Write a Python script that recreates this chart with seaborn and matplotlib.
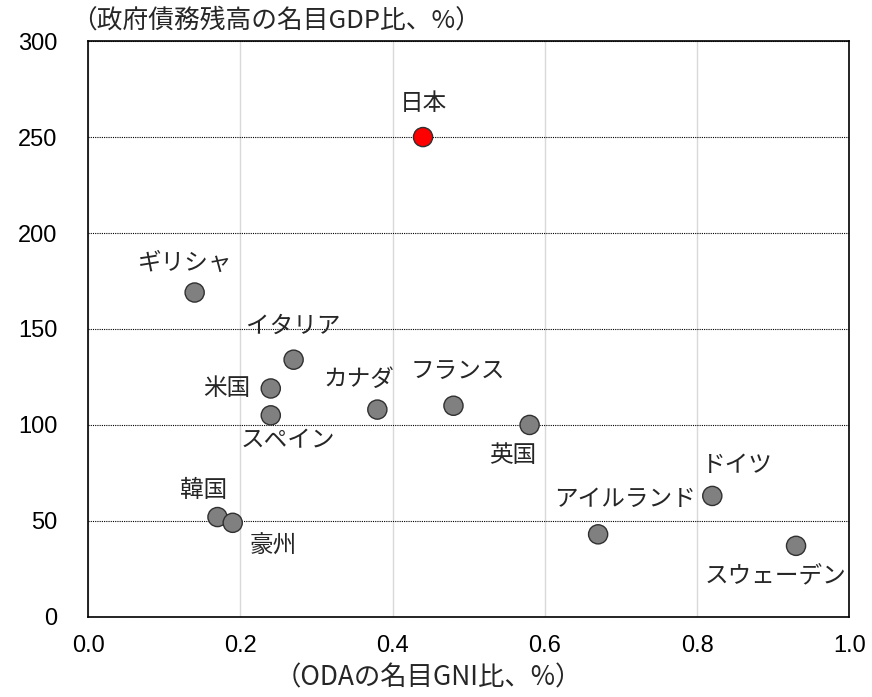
import matplotlib
matplotlib.use('Agg')
import matplotlib.pyplot as plt
import pandas as pd
import seaborn as sns

# Data
countries = ['日本', 'ギリシャ', 'イタリア', '米国', 'スペイン', 'カナダ', 'フランス',
             '英国', '韓国', '豪州', 'アイルランド', 'ドイツ', 'スウェーデン']
oda_gni = [0.44, 0.14, 0.27, 0.24, 0.24, 0.38, 0.48, 0.58, 0.17, 0.19, 0.67, 0.82, 0.93]
debt_gdp = [250, 169, 134, 119, 105, 108, 110, 100, 52, 49, 43, 63, 37]

df = pd.DataFrame({'country': countries, 'oda': oda_gni, 'debt': debt_gdp})
df['group'] = ['japan' if c == '日本' else 'other' for c in df['country']]

# Label offsets (points) relative to each marker
label_offsets = {
    '日本': (0, 24), 'ギリシャ': (-7, 21), 'イタリア': (0, 24), '米国': (-32, 0),
    'スペイン': (12, -18), 'カナダ': (-13, 22), 'フランス': (3, 25), '英国': (-12, -22),
    '韓国': (-10, 19), '豪州': (29, -17), 'アイルランド': (19, 25), 'ドイツ': (18, 22),
    'スウェーデン': (-15, -22),
}

jp = ['Noto Sans CJK JP', 'DejaVu Sans']

# Plot
sns.set_theme(style='white')
plt.rcParams['font.family'] = ['Liberation Sans', 'Noto Sans CJK JP']

fig = plt.figure(figsize=(8.72, 6.97), dpi=100)
ax = fig.add_axes([0.101, 0.115, 0.873, 0.826])

sns.scatterplot(data=df, x='oda', y='debt', hue='group',
                palette={'japan': '#ff0000', 'other': '#808080'},
                s=190, edgecolor='#303030', linewidth=1.0, legend=False,
                zorder=3, ax=ax)

for c, x, y in zip(countries, oda_gni, debt_gdp):
    dx, dy = label_offsets[c]
    ax.annotate(c, (x, y), xytext=(dx, dy), textcoords='offset points',
                ha='center', va='center', fontsize=17, family=jp)

ax.set_xlim(0, 1.0)
ax.set_ylim(0, 300)
ax.set_xticks([0.0, 0.2, 0.4, 0.6, 0.8, 1.0])
ax.set_xticklabels(['0.0', '0.2', '0.4', '0.6', '0.8', '1.0'])
ax.set_yticks(range(0, 301, 50))

ax.xaxis.grid(True, color='#d9d9d9', linewidth=1.0, linestyle='-')
ax.yaxis.grid(True, color='#000000', linewidth=0.8, linestyle=(0, (1, 1)))
ax.set_axisbelow(True)

for sp in ax.spines.values():
    sp.set_color('black')
    sp.set_linewidth(1.2)

ax.tick_params(axis='both', labelsize=17, length=0, colors='black')
ax.tick_params(axis='y', pad=22)
ax.tick_params(axis='x', pad=13)
ax.set_xlabel('')
ax.set_ylabel('')

fig.text(0.491, 0.027, '（ODAの名目GNI比、%）', fontsize=19,
         ha='center', va='center', family=jp)
fig.text(0.082, 0.970, '（政府債務残高の名目GDP比、%）', fontsize=18.5,
         ha='left', va='center', family=jp)

plt.savefig('out.png', dpi=100)
plt.close()
